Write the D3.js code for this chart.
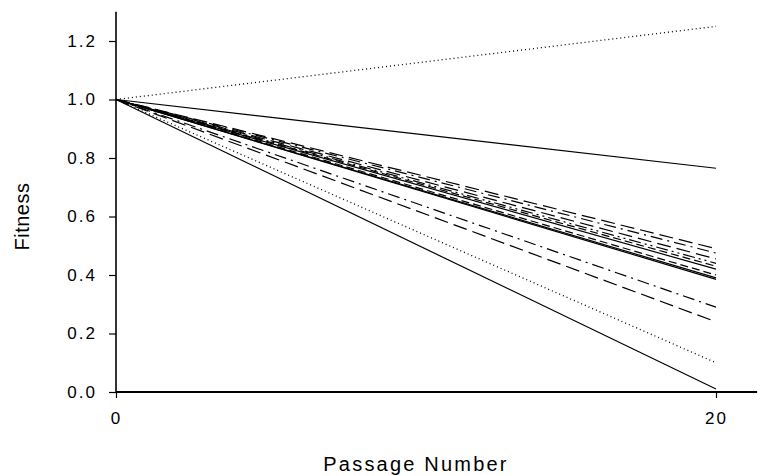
<!DOCTYPE html>
<html>
<head>
<meta charset="utf-8">
<script src="https://cdn.jsdelivr.net/npm/d3@7"></script>
<style>
  body { margin: 0; background: #fff; }
  svg { display: block; }
  text { font-family: "Liberation Sans", Arial, sans-serif; fill: #000; }
  .tick text { font-size: 17px; letter-spacing: 2px; }
</style>
</head>
<body>
<svg id="chart" width="775" height="476"></svg>
<script>
// Passage endpoints: every lineage starts at fitness 1.0 at passage 0
const passages = [0, 20];
const startFitness = 1.0;
const endFitness = [1.25, 0.765, 0.49, 0.475, 0.455, 0.44, 0.43, 0.42, 0.40, 0.39, 0.385, 0.29, 0.24, 0.10, 0.01];
const lineStyles = ["dot", "solid", "longdash", "dashdot", "longdash", "dashdotdot", "dash", "solid", "dash", "solid", "solid", "dashdot", "longdash", "dot", "solid"];
const yTicks = [0.0, 0.2, 0.4, 0.6, 0.8, 1.0, 1.2];
const xTicks = [0, 20];

const dashes = {
  solid: null,
  dot: "1,3",
  dash: "8,4",
  longdash: "14,6",
  dashdot: "12,5,2,5",
  dashdotdot: "12,4,2,4,2,4"
};

const svg = d3.select("#chart");
const x = d3.scaleLinear().domain([0, 20]).range([116, 716]);
const y = d3.scaleLinear().domain([0, 1.2]).range([392, 41]);

// axes
const yAxis = svg.append("g").attr("transform", `translate(${x(0)},0)`)
  .call(d3.axisLeft(y).tickValues(yTicks).tickFormat(d3.format(".1f")).tickSize(7).tickPadding(12));
yAxis.select(".domain").remove();
yAxis.append("line").attr("x1", 0).attr("x2", 0).attr("y1", y(0)).attr("y2", y(1.3))
  .attr("stroke", "#000").attr("stroke-width", 1.6);
yAxis.selectAll(".tick line").attr("stroke", "#000").attr("stroke-width", 1.2);
yAxis.selectAll(".tick text").attr("font-size", null).attr("fill", "#000");

const xAxis = svg.append("g").attr("transform", `translate(0,${y(0)})`)
  .call(d3.axisBottom(x).tickValues(xTicks).tickFormat(d3.format("d")).tickSize(6).tickPadding(14));
xAxis.select(".domain").remove();
xAxis.append("line").attr("x1", x(0)).attr("x2", x(21.37)).attr("y1", 0).attr("y2", 0)
  .attr("stroke", "#000").attr("stroke-width", 2);
xAxis.selectAll(".tick line").attr("stroke", "#000").attr("stroke-width", 1.2);
xAxis.selectAll(".tick text").attr("font-size", null).attr("fill", "#000");

// lineage lines
const line = d3.line().x(d => x(d[0])).y(d => y(d[1]));
svg.append("g").selectAll("path")
  .data(endFitness.map((v, i) => ({ pts: [[passages[0], startFitness], [passages[1], v]], style: lineStyles[i] })))
  .join("path")
  .attr("d", d => line(d.pts))
  .attr("fill", "none")
  .attr("stroke", "#000")
  .attr("stroke-width", d => d.style === "dot" ? 1.3 : 1.2)
  .attr("stroke-dasharray", d => dashes[d.style]);

// axis titles
svg.append("text").attr("x", x(10)).attr("y", 471).attr("text-anchor", "middle")
  .attr("font-size", 20).attr("letter-spacing", 2.2).text("Passage Number");
svg.append("text").attr("transform", `translate(29,${y(0.6)}) rotate(-90)`).attr("text-anchor", "middle")
  .attr("font-size", 20).attr("letter-spacing", 0.5).text("Fitness");
</script>
</body>
</html>
